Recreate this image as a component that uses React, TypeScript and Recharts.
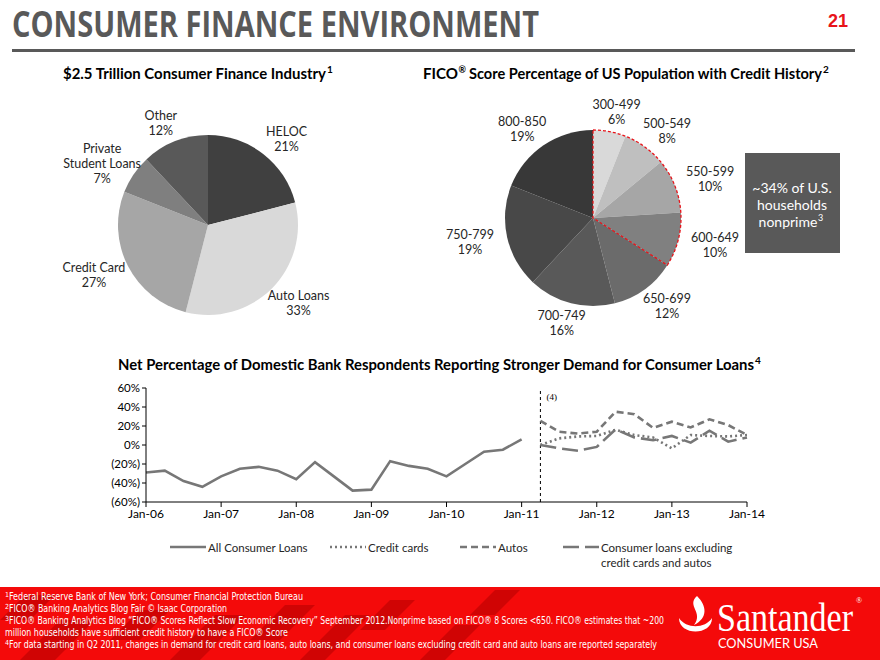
import React from "react";
import { PieChart, Pie, Cell, LineChart, Line, XAxis, YAxis, ReferenceLine } from "recharts";

// $2.5 trillion consumer finance industry
const industryNames = ["HELOC", "Auto Loans", "Credit Card", "Private Student Loans", "Other"];
const industryShares = [21, 33, 27, 7, 12];
const industryColors = ["#404040", "#d9d9d9", "#a6a6a6", "#7f7f7f", "#595959"];

// FICO score bands
const ficoBands = ["300-499", "500-549", "550-599", "600-649", "650-699", "700-749", "750-799", "800-850"];
const ficoShares = [6, 8, 10, 10, 12, 16, 19, 19];
const ficoColors = ["#d9d9d9", "#bfbfbf", "#a6a6a6", "#808080", "#6b6b6b", "#595959", "#484848", "#383838"];
const nonprimeSplit = [34, 66];

// bank survey, quarterly, Q1 2006 = 0
const yearLabels = ["Jan-06", "Jan-07", "Jan-08", "Jan-09", "Jan-10", "Jan-11", "Jan-12", "Jan-13", "Jan-14"];
const allConsumerLoans = [-29, -27, -38, -44, -33, -25, -23, -27, -36, -18, -33, -48, -47, -17, -22, -25, -33, -20, -7, -5, 6];
const creditCards = [0, 7, 9, 9.5, 16, 10.5, 8, -3.5, 10.5, 9.5, 9, 10.5];
const autos = [25.5, 14, 12, 14, 35, 32.5, 18, 24.5, 18.5, 27, 21, 10.5];
const exclCardsAutos = [0, -3.5, -6, -2, 16.5, 8, 5, 9.5, 2.5, 15, 3.5, 8];
const splitQuarter = 21;

const industryData = industryNames.map((name, i) => ({ name, share: industryShares[i] }));
const ficoData = ficoBands.map((name, i) => ({ name, share: ficoShares[i] }));
const nonprimeData = nonprimeSplit.map((v, i) => ({ name: i === 0 ? "nonprime" : "prime", share: v }));

const lastQuarter = splitQuarter + creditCards.length - 1;
const lineData = Array.from({ length: lastQuarter + 1 }, (_, q) => ({
    q,
    all: q < splitQuarter ? allConsumerLoans[q] : undefined,
    cc: q >= splitQuarter ? creditCards[q - splitQuarter] : undefined,
    autos: q >= splitQuarter ? autos[q - splitQuarter] : undefined,
    excl: q >= splitQuarter ? exclCardsAutos[q - splitQuarter] : undefined,
}));
const yearTicks = yearLabels.map((_, i) => i * 4);

const RAD = Math.PI / 180;
const FONT = "Lato, 'Open Sans', sans-serif";
const LINE_GREY = "#777777";

// label sits on an ellipse around the pie, a bit wider than tall
const pieLabel = (props: any) => {
    const { cx, cy, midAngle, outerRadius, name, value } = props;
    const x = cx + (outerRadius + 38) * Math.cos(-midAngle * RAD);
    const y = cy + (outerRadius + 20) * Math.sin(-midAngle * RAD);
    const sp = name.indexOf(" ");
    const lines = name.length > 14 ? [name.slice(0, sp), name.slice(sp + 1)] : [name];
    lines.push(`${value}%`);
    const lh = 15;
    const y0 = y - ((lines.length - 1) * lh) / 2;
    return (
        <text x={x} y={y0} textAnchor="middle" dominantBaseline="central" fontSize={12.5} fontFamily={FONT} fill="#262626">
            {lines.map((l: string, i: number) => (
                <tspan key={i} x={x} y={y0 + i * lh}>{l}</tspan>
            ))}
        </text>
    );
};

const pct = (v: number) => (v < 0 ? `(${-v}%)` : `${v}%`);

const legendItems = [
    { label: "All Consumer Loans", dash: undefined, left: 170 },
    { label: "Credit cards", dash: "2 3", left: 330 },
    { label: "Autos", dash: "7 4", left: 460 },
    { label: "Consumer loans excluding\ncredit cards and autos", dash: "16 6", left: 563 },
];

const LegendRow = () => (
    <>
        {legendItems.map((it) => (
            <div key={it.label} style={{ position: "absolute", left: it.left, top: 540, display: "flex", alignItems: "flex-start" }}>
                <svg width={36} height={14}>
                    <line x1={0} y1={7} x2={36} y2={7} stroke={LINE_GREY} strokeWidth={2.5} strokeDasharray={it.dash} />
                </svg>
                <div style={{ fontFamily: FONT, fontSize: 11.5, color: "#262626", whiteSpace: "pre", lineHeight: "15px", marginLeft: 2 }}>
                    {it.label}
                </div>
            </div>
        ))}
    </>
);

const footnotes = [
    { sup: "1", text: " Federal Reserve Bank of New York; Consumer Financial Protection Bureau", w: 298 },
    { sup: "2", text: " FICO® Banking Analytics Blog Fair © Isaac Corporation", w: 222 },
    { sup: "3", text: " FICO® Banking Analytics  Blog “FICO®  Scores  Reflect Slow Economic Recovery” September 2012.Nonprime based on FICO® 8 Scores <650. FICO® estimates that ~200", w: 659 },
    { sup: "", text: "million households have sufficient  credit history to have a FICO®  Score", w: 283 },
    { sup: "4", text: "For data starting in Q2 2011, changes in demand for credit card loans, auto loans, and consumer loans excluding credit card and auto loans are reported separately", w: 652 },
];

const Decor = () => (
    <svg width={880} height={660} style={{ position: "absolute", left: 0, top: 0 }}>
        <text x={12} y={37} fontFamily="'Open Sans', sans-serif" fontWeight={700} fontSize={36} fill="#595959" textLength={527} lengthAdjust="spacingAndGlyphs">
            CONSUMER FINANCE ENVIRONMENT
        </text>
        <text x={828} y={27} fontFamily="'Liberation Sans Narrow', 'Liberation Sans', sans-serif" fontWeight={700} fontSize={18} fill="#e8141a">
            21
        </text>
        <rect x={12} y={49} width={843} height={3} fill="#595959" />

        <g fontFamily={FONT} fontWeight={700} fill="#000">
            <text x={63} y={79} fontSize={15.5} textLength={263} lengthAdjust="spacingAndGlyphs">
                $2.5 Trillion Consumer Finance Industry
            </text>
            <text x={327} y={73} fontSize={10}>1</text>
            <text x={423} y={79} fontSize={15.5} textLength={35} lengthAdjust="spacingAndGlyphs">FICO</text>
            <text x={458.5} y={73} fontSize={9}>®</text>
            <text x={469} y={79} fontSize={15.5} textLength={353} lengthAdjust="spacingAndGlyphs">
                Score Percentage of US Population with Credit History
            </text>
            <text x={823} y={73} fontSize={10}>2</text>
            <text x={118} y={370} fontSize={15.5} textLength={636} lengthAdjust="spacingAndGlyphs">
                Net Percentage of Domestic Bank Respondents Reporting Stronger Demand for Consumer Loans
            </text>
            <text x={755} y={364} fontSize={10}>4</text>
        </g>

        <rect x={745} y={153} width={95} height={100} fill="#595959" />
        <g fontFamily={FONT} fontSize={14} fill="#fff" textAnchor="middle">
            <text x={792} y={193}>~34% of U.S.</text>
            <text x={792} y={210}>households</text>
            <text x={788} y={227}>nonprime</text>
        </g>
        <text x={818} y={221} fontFamily={FONT} fontSize={9} fill="#fff">3</text>

        <rect x={0} y={587} width={880} height={73} fill="#f40a0a" />
        <g fill="#b30000" opacity={0.55}>
            <polygon points="20,660 60,620 95,620 55,660" />
            <polygon points="110,640 140,610 170,610 140,640" />
            <polygon points="170,660 215,615 245,615 200,660" />
            <polygon points="250,640 285,605 315,605 280,640" />
            <polygon points="300,660 345,615 370,615 325,660" />
            <polygon points="360,630 390,600 415,600 385,630" />
            <polygon points="420,660 455,625 480,625 445,660" />
            <polygon points="470,615 495,590 520,590 495,615" />
            <polygon points="0,620 25,595 55,595 30,620" />
        </g>
        <g fill="#fff" fontFamily="'Liberation Sans Narrow', 'DejaVu Sans Condensed', sans-serif">
            {footnotes.map((f, i) => (
                <g key={i}>
                    {f.sup ? <text x={5} y={597 + i * 12} fontSize={7}>{f.sup}</text> : null}
                    <text x={f.sup ? 9 : 5} y={600 + i * 12} fontSize={10} textLength={f.w - (f.sup ? 4 : 0)} lengthAdjust="spacingAndGlyphs">
                        {f.text}
                    </text>
                </g>
            ))}
        </g>

        <g fill="#fff">
            <path d="M697 596 C686 606 704 612 694 625 C708 618 707 606 697 596 Z" />
            <path d="M679 618 C679 636 712 636 712 618 C705 629 686 629 679 618 Z" />
            <text x={717} y={631} fontFamily="'Liberation Serif', serif" fontSize={40} textLength={136} lengthAdjust="spacingAndGlyphs">Santander</text>
            <text x={856} y={603} fontFamily="'Liberation Serif', serif" fontSize={8}>®</text>
            <text x={718} y={648} fontFamily={FONT} fontSize={14} textLength={100} lengthAdjust="spacingAndGlyphs">CONSUMER USA</text>
        </g>
    </svg>
);

export default function App() {
    return (
        <div style={{ position: "absolute", left: 0, top: 0, width: 880, height: 660, overflow: "hidden", background: "#fff" }}>
            <Decor />

            <div style={{ position: "absolute", left: 0, top: 80 }}>
                <PieChart width={400} height={260}>
                    <Pie data={industryData} dataKey="share" nameKey="name" cx={203} cy={140} outerRadius={90}
                        startAngle={90} endAngle={-270} stroke="none" label={pieLabel} labelLine={false} isAnimationActive={false}>
                        {industryData.map((d, i) => (
                            <Cell key={d.name} fill={industryColors[i]} />
                        ))}
                    </Pie>
                </PieChart>
            </div>

            <div style={{ position: "absolute", left: 420, top: 80 }}>
                <PieChart width={325} height={260}>
                    <Pie data={ficoData} dataKey="share" nameKey="name" cx={168} cy={133} outerRadius={88}
                        startAngle={90} endAngle={-270} stroke="none" label={pieLabel} labelLine={false} isAnimationActive={false}>
                        {ficoData.map((d, i) => (
                            <Cell key={d.name} fill={ficoColors[i]} />
                        ))}
                    </Pie>
                    <Pie data={nonprimeData} dataKey="share" nameKey="name" cx={168} cy={133} outerRadius={88}
                        startAngle={90} endAngle={-270} fill="none" label={false} isAnimationActive={false}>
                        <Cell fill="none" stroke="#e8141a" strokeWidth={1.3} strokeDasharray="3 2" />
                        <Cell fill="none" stroke="none" />
                    </Pie>
                </PieChart>
            </div>

            <div style={{ position: "absolute", left: 0, top: 380 }}>
                <LineChart width={880} height={152} data={lineData} margin={{ top: 8, right: 133, bottom: 0, left: 0 }}>
                    <XAxis dataKey="q" type="number" domain={[0, lastQuarter]} ticks={yearTicks}
                        tickFormatter={(v: number) => yearLabels[v / 4]} height={30} stroke="#000" tickSize={5}
                        tick={{ fill: "#000", fontSize: 12, fontFamily: FONT }} />
                    <YAxis domain={[-60, 60]} ticks={[-60, -40, -20, 0, 20, 40, 60]} tickFormatter={pct} width={146}
                        stroke="#000" tickSize={4} tick={{ fill: "#000", fontSize: 11.5, fontFamily: FONT }} />
                    <ReferenceLine x={splitQuarter} stroke="#000" strokeDasharray="3 3"
                        label={{ value: "(4)", position: "insideTopLeft", offset: 6, fontSize: 9, fontFamily: "'Liberation Serif', serif", fill: "#000" }} />
                    <Line dataKey="all" stroke={LINE_GREY} strokeWidth={2.6} dot={false} isAnimationActive={false} />
                    <Line dataKey="cc" stroke={LINE_GREY} strokeWidth={2.6} strokeDasharray="2 3" dot={false} isAnimationActive={false} />
                    <Line dataKey="autos" stroke={LINE_GREY} strokeWidth={2.6} strokeDasharray="7 4" dot={false} isAnimationActive={false} />
                    <Line dataKey="excl" stroke={LINE_GREY} strokeWidth={2.6} strokeDasharray="16 6" dot={false} isAnimationActive={false} />
                </LineChart>
            </div>

            <LegendRow />
        </div>
    );
}
